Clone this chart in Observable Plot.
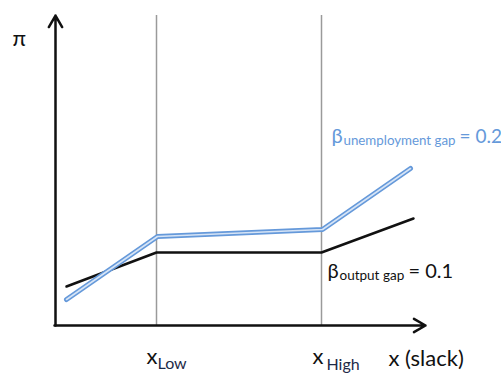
<!DOCTYPE html>
<html>
<head>
<meta charset="utf-8">
<script src="https://cdn.jsdelivr.net/npm/d3@7"></script>
<script src="https://cdn.jsdelivr.net/npm/@observablehq/plot@0.6"></script>
<style>
  html, body { margin: 0; padding: 0; background: #fff; }
</style>
</head>
<body>
<div id="chart"></div>
<script>
// Data (arbitrary units)
const xPoints = [0.11, 1.01, 2.66, 3.58];
const xPointsBlue = [0.11, 1.02, 2.67, 3.55];
const outputGapLine = [0.39, 0.73, 0.73, 1.07];
const unemploymentGapLine = [0.26, 0.89, 0.96, 1.57];
const thresholds = [1.01, 2.66];
const axisMax = {x: 3.7, y: 3.1};
const thresholdNames = ["Low", "High"];
const yLabel = "π";
const xLabel = "x (slack)";
const betaOutput = ["β", "output gap", "= 0.1"];
const betaUnemp = ["β", "unemployment gap", "= 0.2"];

const FONT = "Lato, 'Open Sans', sans-serif";
const BLUE = "#6599da";

const outRows = xPoints.map((x, i) => ({x, y: outputGapLine[i]}));
const unRows = xPointsBlue.map((x, i) => ({x, y: unemploymentGapLine[i]}));

const txt = (s, x, y, size, fill, extra = {}) =>
  Plot.text([s], {x: () => x, y: () => y, text: d => d, fontSize: size, fill,
    textAnchor: "start", lineAnchor: "bottom", fontFamily: FONT, ...extra});

const chart = Plot.plot({
  width: 501,
  height: 374,
  marginLeft: 55,
  marginRight: 76,
  marginTop: 15,
  marginBottom: 49,
  x: {domain: [0, axisMax.x], axis: null},
  y: {domain: [0, axisMax.y], axis: null},
  style: {fontFamily: FONT, background: "#fff", overflow: "visible"},
  marks: [
    Plot.ruleX(thresholds, {x: d => d, y1: 0, y2: axisMax.y, stroke: "#9a9a9a", strokeWidth: 1.5}),
    Plot.arrow([0], {x1: 0, y1: 0, x2: 0, y2: axisMax.y, stroke: "#111", strokeWidth: 2.5}),
    Plot.arrow([0], {x1: -0.01, y1: 0, x2: axisMax.x, y2: 0, stroke: "#111", strokeWidth: 2.5}),
    Plot.line(outRows, {x: "x", y: "y", stroke: "#111", strokeWidth: 2.5}),
    Plot.line(unRows, {x: "x", y: "y", stroke: BLUE, strokeWidth: 5}),
    Plot.line(unRows, {x: "x", y: "y", stroke: "#d6e4f6", strokeWidth: 1.6}),
    // y label
    txt(yLabel, -0.43, 2.80, 22, "#111"),
    // x threshold labels
    txt("x", 0.91, -0.38, 22, "#111"),
    txt(thresholdNames[0], 1.02, -0.43, 16, "#1d2a48"),
    txt("x", 2.57, -0.38, 22, "#111"),
    txt(thresholdNames[1], 2.71, -0.44, 16, "#1d2a48"),
    txt(xLabel, 3.33, -0.40, 22, "#111"),
    // beta output gap
    txt(betaOutput[0], 2.72, 0.48, 20, "#111"),
    txt(betaOutput[1], 2.84, 0.46, 13.5, "#111"),
    txt(betaOutput[2], 3.53, 0.48, 20, "#111"),
    // beta unemployment gap
    txt(betaUnemp[0], 2.76, 1.83, 20, BLUE),
    txt(betaUnemp[1], 2.88, 1.81, 13.3, BLUE),
    txt(betaUnemp[2], 4.04, 1.83, 19, BLUE)
  ]
});
document.getElementById("chart").appendChild(chart);
</script>
</body>
</html>
